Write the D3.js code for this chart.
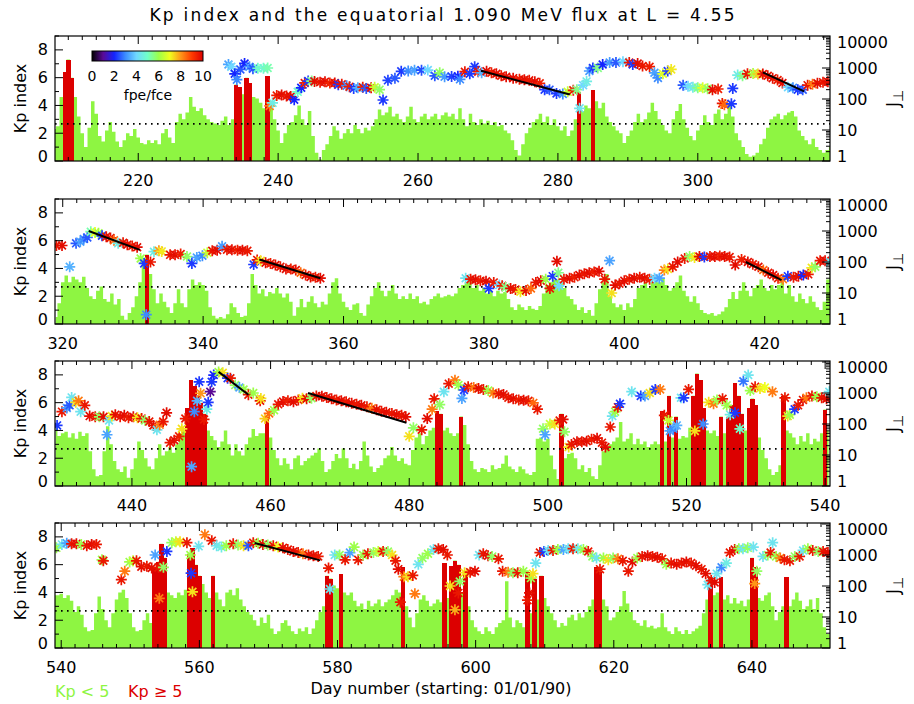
<!DOCTYPE html>
<html><head><meta charset="utf-8">
<script src="https://cdn.jsdelivr.net/npm/d3@7"></script>
<style>body{margin:0;background:#fff} text{font-family:"DejaVu Sans",sans-serif}</style>
</head><body><svg id="c" width="914" height="704"></svg>
<script>
const title = "Kp index and the equatorial 1.090 MeV flux at L = 4.55";
const panelDays = [[208.1,318.9],[318.9,429.3],[428.9,540.7],[539.1,651.3]];
const kpStart = [208,319,429,539];
const kpStep = 0.5;
const kp1 = [2.3,2.5,4.6,6.4,7.3,6.0,4.6,3.2,2.0,1.0, 2.4,4.3,3.4,1.8,1.4,2.2,2.8,2.1,1.4,1.0,
1.5,2.0,1.8,2.3,1.7,1.3,1.2,1.5,1.3,1.5, 1.2,2.0,2.3,1.7,1.3,2.8,3.4,3.0,3.5,4.6,
3.9,3.6,3.8,3.3,3.0,2.8,2.7,2.6,2.9,3.2, 2.6,3.0,5.5,5.3,4.8,6.0,5.6,4.6,4.5,4.2,
3.8,6.1,3.8,3.0,2.2,1.3,2.0,2.6,2.8,3.3, 4.0,3.0,2.6,3.6,1.8,0.6,0.1,0.8,1.2,1.8,
2.5,2.2,1.6,2.0,2.3,2.0,2.6,2.3,2.0,2.4, 2.2,2.5,3.0,3.7,3.3,3.5,3.9,3.2,3.4,3.0,
2.8,3.2,3.9,3.0,2.8,3.2,3.4,3.0,3.2,3.4, 3.0,3.3,3.5,3.2,3.4,3.0,3.8,3.0,2.5,3.4,
2.8,2.6,3.0,2.7,2.9,2.6,2.8,2.5,2.6,2.2, 2.0,1.5,0.8,0.4,1.2,2.0,2.4,2.8,3.0,3.4,
2.8,3.2,2.6,3.0,2.5,2.2,2.5,1.8,2.2,3.0, 5.0,3.6,4.0,3.8,5.1,4.3,3.8,4.2,3.2,2.8,
2.5,2.2,2.0,1.3,1.8,2.2,2.8,3.4,2.8,3.0, 3.5,4.2,3.6,3.0,2.6,2.2,2.0,3.0,3.6,4.1,
3.0,2.4,1.8,1.5,2.2,2.6,3.3,2.8,2.6,3.4, 3.7,3.0,3.4,4.0,3.2,2.0,1.5,1.0,0.5,0.3,
0.4,0.6,1.2,1.6,2.4,3.0,3.2,3.4,3.0,3.3, 3.5,3.6,3.2,2.2,1.8,1.5,1.2,1.6,1.0,0.8,
0.6,0.8,1.0];
const kp2 = [0.5,1.5,3.0,3.5,3.0,3.4,3.2,3.0,3.4,2.6, 2.0,1.8,2.4,2.7,1.8,1.6,2.2,1.4,1.8,0.6,
0.3,0.8,1.2,2.0,3.0,4.5,5.0,3.6,2.5,1.5, 2.2,1.6,1.2,0.8,1.5,2.5,1.5,1.2,2.5,3.2,
2.8,3.0,2.8,2.4,1.2,0.6,0.4,0.5,0.4,0.7, 1.5,1.2,0.8,0.5,0.6,1.5,3.6,2.8,2.2,2.5,
2.0,2.3,2.2,2.6,2.2,1.9,2.2,1.6,0.6,1.2, 1.8,1.2,1.6,2.0,1.5,1.2,1.6,1.4,2.2,3.0,
3.3,2.2,1.6,1.2,1.0,1.4,1.5,0.8,0.6,1.4, 2.0,2.6,3.0,2.4,2.0,2.4,2.8,2.2,1.8,2.0,
1.8,2.2,1.8,2.0,1.5,1.6,1.4,1.8,2.0,2.2, 1.9,2.0,2.1,2.0,2.2,2.6,2.8,3.0,3.3,2.6,
2.8,2.4,2.6,2.2,2.4,2.0,2.4,2.2,2.3,1.8, 1.2,1.0,1.4,1.2,1.0,1.3,1.1,1.0,1.3,2.2,
2.8,3.0,3.2,3.2,3.0,2.6,2.0,1.8,1.4,1.0, 1.2,0.8,1.0,0.6,1.5,2.5,3.0,3.6,2.0,1.5,
1.2,1.4,1.0,1.5,1.2,1.8,2.6,2.8,3.0,2.6, 3.0,3.2,3.0,3.3,2.8,2.4,2.6,3.0,3.5,2.4,
2.0,1.6,2.0,1.5,1.0,0.8,0.7,0.8,0.6,0.7, 0.9,1.2,1.8,2.3,1.8,2.4,3.0,2.4,2.0,2.6,
2.8,3.2,2.6,2.4,2.8,2.5,2.8,3.0,2.2,2.8, 2.0,1.6,2.2,1.8,1.5,2.0,1.6,1.2,1.0,1.6,
3.2,4.0];
const kp3 = [4.2,3.6,3.8,3.9,3.5,3.8,3.4,3.9,3.6,3.8, 2.5,1.2,0.7,0.8,2.5,4.3,3.0,1.8,1.2,1.0,
1.4,0.6,1.2,2.0,3.2,2.6,2.0,1.4,1.2,2.0, 3.0,2.2,2.5,2.8,2.4,3.0,3.8,4.0,5.6,7.6,
7.2,6.5,6.0,5.2,4.0,3.6,3.3,2.8,3.2,4.0, 3.0,2.2,3.0,2.5,2.2,3.0,3.5,4.1,3.6,3.8,
3.8,5.0,3.5,2.6,2.0,1.5,2.0,1.6,1.2,2.0, 2.2,1.5,1.8,2.0,2.2,2.4,2.7,1.8,1.0,1.2,
1.8,2.3,2.0,2.7,2.0,1.3,1.6,1.2,1.8,3.2, 2.2,1.4,1.0,1.3,1.5,2.0,2.2,2.8,2.2,1.8,
2.0,1.6,1.5,2.6,3.5,3.8,3.0,3.6,4.0,4.2, 5.4,5.2,4.0,4.2,3.8,3.6,3.8,5.0,4.4,3.0,
1.8,1.2,1.0,1.3,1.2,1.0,1.5,1.2,1.3,1.6, 2.2,1.4,1.2,1.0,1.4,1.2,0.9,0.8,1.0,3.4,
3.5,3.2,3.4,2.2,1.2,0.5,5.2,2.0,2.3,2.4, 2.0,1.2,1.5,1.0,1.3,0.7,0.5,1.5,2.5,2.8,
3.0,3.2,3.5,4.6,3.2,3.4,3.8,3.0,3.4,3.0, 3.2,2.8,3.0,3.2,3.0,5.4,3.2,6.5,3.5,5.0,
3.4,3.6,3.5,4.2,6.5,8.1,7.6,5.6,4.0,3.8, 4.0,3.6,5.0,3.8,5.0,5.8,7.4,6.5,5.2,4.0,
5.6,6.3,5.8,3.5,2.6,2.0,1.2,0.8,1.0,1.5, 6.5,4.0,3.8,3.5,3.0,3.6,3.2,3.8,3.0,3.4,
3.2,3.8,5.5,4.0];
const kp4 = [3.8,3.8,3.9,3.6,3.8,3.4,2.6,3.0,2.4,1.5, 1.2,1.3,2.5,3.7,2.8,2.0,1.5,2.5,3.5,4.0,
4.2,3.6,2.5,1.5,1.2,1.3,2.0,2.5,1.8,5.8, 6.2,7.5,6.5,4.0,3.8,3.6,4.0,3.8,4.2,6.8,
7.2,6.0,5.2,4.6,4.0,3.6,5.2,4.0,3.5,3.0, 4.0,4.2,3.8,4.3,3.5,3.0,2.6,2.4,2.0,1.6,
2.2,1.8,2.4,1.4,1.0,1.2,1.8,2.0,1.6,1.2, 1.0,1.4,1.2,1.5,1.0,1.4,2.0,2.6,3.0,5.2,
5.0,4.5,4.3,5.3,4.0,3.8,4.0,3.4,3.0,3.2, 2.8,3.4,3.0,3.2,3.5,3.0,3.3,3.5,3.8,4.2,
4.0,5.8,3.0,2.2,1.5,2.5,3.5,3.8,3.4,3.0, 3.2,3.5,3.3,6.1,3.6,5.9,6.3,6.0,4.0,5.4,
3.0,2.0,1.5,1.2,1.0,1.5,1.2,1.0,1.5,1.8, 2.0,4.8,2.2,1.5,2.0,1.8,1.5,5.5,2.5,5.0,
3.5,5.2,3.6,3.0,2.5,2.0,1.5,1.8,1.6,2.2, 2.4,2.0,2.5,2.2,2.6,3.0,3.5,5.8,5.5,3.5,
3.0,2.0,2.2,2.6,3.0,4.1,3.2,2.6,2.0,1.8, 1.6,2.0,1.5,1.6,1.4,1.5,2.5,1.5,1.2,1.0,
1.5,1.2,1.0,1.3,1.0,1.2,1.4,1.6,2.5,3.5, 5.1,3.8,4.0,5.1,3.5,3.8,3.2,3.6,3.2,3.4,
3.0,3.5,6.5,5.8,3.6,3.4,3.8,4.0,3.0,2.0, 2.6,3.0,5.1,3.0,3.5,4.0,3.4,2.8,3.0,3.5,
2.8,3.6,2.5,1.5,1.0,0.8];

// flux points: [day, J, fpe/fce]
const flux1 = [[232.9,1300,3.3],[233.3,1100,4.0],[233.8,650,2.0],[234.1,420,3.0],[234.6,900,2.5],[235.2,1400,2.0],[235.9,1100,3.2],[236.4,950,2.5],[237.1,980,5.0],[237.9,990,4.8],[238.5,1000,5.2],[238.8,60,8.3],[239.2,75,4.5],[239.8,130,9.5],[240.5,135,9.8],[241.2,125,9.6],[241.8,120,9.8],[242.3,95,2.0],[242.8,170,5.0],[243.3,230,2.0],[243.8,330,9.5],[244.3,380,2.2],[244.8,380,5.5],[245.2,370,9.8],[246.0,350,9.6],[246.7,360,9.8],[247.4,330,9.4],[248.1,330,9.8],[248.6,290,2.2],[249.1,300,9.6],[249.8,270,3.0],[250.2,250,9.5],[250.8,220,2.2],[251.4,230,3.5],[252.1,240,9.5],[252.6,220,2.5],[253.3,230,9.8],[253.8,240,6.5],[254.5,200,5.8],[255.0,93,2.2],[255.7,400,2.3],[256.7,470,2.5],[257.6,780,2.2],[258.6,800,3.0],[259.5,850,3.3],[260.5,850,2.4],[261.4,860,4.0],[262.4,560,2.5],[263.1,700,5.8],[263.8,520,3.2],[264.8,530,2.3],[265.7,540,2.0],[266.0,430,3.0],[266.7,760,9.6],[267.4,650,2.2],[268.1,1100,2.2],[268.6,760,9.6],[269.1,700,3.5],[269.8,790,9.8],[270.5,700,9.5],[271.2,650,9.8],[271.9,560,9.6],[272.6,520,9.8],[273.6,470,9.8],[274.5,430,9.5],[275.2,420,9.8],[275.9,400,9.6],[276.7,360,9.8],[277.4,320,9.5],[278.1,200,2.2],[278.8,200,2.5],[279.8,150,2.2],[280.7,145,3.0],[281.4,170,6.5],[282.2,190,9.6],[282.7,200,5.5],[283.1,50,4.3],[283.6,280,4.0],[284.1,370,4.5],[284.5,800,3.2],[285.0,1000,2.2],[285.7,1000,5.5],[286.4,1300,2.0],[287.4,1500,3.2],[288.3,1500,2.5],[289.3,1600,4.0],[290.2,1500,9.6],[290.7,1300,2.2],[291.4,1400,9.8],[292.1,1150,9.6],[293.1,1100,9.5],[293.8,700,3.3],[294.3,480,3.0],[295.0,650,6.8],[295.7,800,2.2],[296.2,900,7.2],[297.9,280,2.5],[298.6,260,4.0],[299.3,240,4.5],[300.0,230,5.5],[300.7,230,6.8],[301.4,215,5.8],[302.1,200,9.8],[302.9,210,9.5],[303.5,72,9.6],[303.8,65,8.5],[304.8,70,2.2],[305.0,220,2.2],[305.7,590,4.5],[306.4,560,5.5],[307.1,650,9.6],[307.9,660,6.2],[308.6,640,7.5],[309.3,640,9.8],[310.0,560,9.6],[310.7,470,9.8],[311.4,410,9.5],[312.1,330,9.8],[312.9,240,4.0],[313.6,230,3.0],[314.3,200,2.2],[315.0,200,2.5],[315.7,280,9.6],[316.4,300,8.3],[317.1,320,9.8],[317.9,350,9.6],[318.6,360,9.8]];
const flux2 = [[319.1,340,9.6],[319.9,340,9.8],[321.0,70,3.5],[321.9,400,2.5],[322.5,450,3.3],[323.0,550,3.0],[323.5,620,2.5],[324.0,950,5.2],[324.6,900,7.0],[325.1,850,6.0],[325.6,700,2.2],[326.2,650,9.6],[326.8,600,9.8],[327.3,500,8.5],[327.9,400,4.5],[328.6,420,9.6],[329.2,360,9.8],[329.9,330,9.5],[330.6,300,9.8],[331.1,130,6.0],[331.6,90,2.2],[331.9,2,3.0],[332.5,100,9.6],[333.0,215,4.5],[333.7,230,8.0],[334.1,220,7.2],[335.3,170,9.6],[336.0,170,9.8],[336.8,180,9.5],[337.7,150,5.8],[338.4,90,2.2],[339.1,140,3.3],[339.9,160,3.0],[340.6,200,6.5],[341.3,230,9.6],[342.0,240,9.8],[342.7,320,3.2],[343.4,250,9.6],[344.1,250,9.8],[344.9,240,9.5],[345.6,240,9.8],[346.3,230,9.6],[347.2,83,2.2],[347.7,117,9.6],[348.2,110,7.2],[348.9,95,9.8],[349.6,90,9.5],[350.3,80,9.8],[351.0,70,9.6],[351.8,60,9.8],[352.5,60,9.5],[353.2,55,9.8],[353.9,45,8.5],[354.6,38,9.6],[355.3,33,9.8],[356.0,32,9.5],[356.7,30,9.8],
[377.4,30,4.3],[378.1,28,9.6],[378.8,27,9.8],[379.5,25,9.5],[380.3,24,9.8],[380.7,14,2.2],[381.4,22,9.6],[382.2,18,4.0],[382.6,17,9.5],[383.1,15,5.5],[383.8,14,9.8],[384.5,13,9.6],[385.2,11,7.2],[386.0,12,9.8],[386.7,14,8.5],[387.4,22,9.6],[388.1,25,9.8],[388.8,28,6.0],[389.4,14,9.6],[389.8,35,2.2],[390.4,105,9.8],[390.6,45,5.5],[390.7,17,4.0],[391.4,28,9.6],[392.2,30,9.8],[392.9,32,9.5],[393.6,38,9.8],[394.3,42,9.6],[395.0,45,9.8],[395.7,48,9.5],[396.4,50,9.8],[397.2,28,9.6],[397.9,110,3.3],[398.2,10,7.3],[398.7,18,9.8],[399.3,20,9.6],[400.0,25,9.8],[400.7,28,9.5],[401.4,30,9.8],[402.2,32,9.6],[402.9,30,9.8],[403.6,28,9.5],[404.3,30,4.0],[405.0,30,3.3],[405.7,55,8.3],[406.2,60,7.3],[406.9,70,9.6],[407.6,100,9.8],[408.6,130,9.6],[409.3,150,5.8],[410.0,140,7.2],[410.7,150,9.8],[411.4,145,2.2],[412.2,150,9.6],[412.9,150,9.8],[413.6,155,9.5],[414.3,150,9.8],[415.0,145,9.6],[415.8,80,9.8],[416.7,120,9.5],[417.6,100,9.8],[418.3,85,9.6],[419.1,70,9.8],[419.8,55,8.5],[420.5,45,9.6],[421.2,38,9.8],[421.9,30,9.5],[422.6,28,8.3],[423.3,35,2.2],[424.1,32,9.6],[424.8,35,9.8],[425.5,38,2.0],[426.2,40,9.6],[426.7,65,7.2],[427.2,70,5.8],[427.9,110,9.6],[428.6,110,9.8],[429.3,100,4.3]];
const flux3 = [[429.2,90,2.2],[429.9,250,9.6],[430.6,330,3.2],[431.0,400,2.5],[431.3,720,4.3],[431.9,500,7.3],[432.3,560,8.3],[432.6,250,4.3],[433.2,400,9.6],[433.9,180,9.8],[434.7,170,9.6],[435.3,170,5.8],[435.9,170,9.8],[436.4,45,3.3],[436.7,130,4.3],[437.1,180,7.2],[437.6,200,9.8],[438.3,170,9.6],[438.9,190,9.8],[439.5,160,9.5],[440.2,170,9.8],[440.8,160,7.2],[441.4,150,9.6],[441.9,130,5.8],[442.5,120,9.6],[443.1,90,9.8],[443.6,65,4.3],[444.0,95,8.3],[444.5,120,9.6],[445.0,230,9.8],[445.5,25,9.6],[446.1,30,9.8],[446.8,40,9.5],[447.2,70,7.3],[447.7,150,9.6],[448.6,4.2,3.3],[449.0,250,3.0],[449.4,560,3.5],[449.7,2300,2.2],[449.9,980,8.0],[450.4,140,9.6],[450.8,300,4.5],[451.0,500,2.2],[451.3,1100,1.0],[451.5,2300,2.2],[451.8,3800,2.0],[452.5,4800,6.0],[453.1,4500,7.3],[453.8,3000,2.2],[454.2,3000,9.6],[454.9,1800,5.8],[455.5,1500,3.3],[456.1,1300,6.0],[456.8,880,9.6],[457.5,1000,6.0],[458.5,560,9.6],[458.6,670,7.3],[459.2,150,7.5],[459.8,220,8.5],[460.5,280,6.0],[461.1,430,9.6],[461.8,530,9.8],[462.5,560,9.5],[463.3,520,9.8],[464.0,600,9.6],[464.6,680,7.3],[465.2,650,9.8],[465.9,680,5.8],[466.6,800,9.6],[467.4,780,9.8],[468.1,720,9.6],[468.8,650,9.8],[469.5,600,9.5],[470.2,560,9.8],[470.9,520,9.6],[471.7,470,9.8],[472.4,430,9.6],[473.1,400,9.8],[473.9,360,9.6],[474.6,320,8.3],[475.3,290,9.8],[476.0,260,9.6],[476.7,240,9.8],[477.5,220,9.6],[478.2,200,9.8],[478.9,190,9.6],[479.5,170,9.8],[480.0,40,7.3],[480.6,75,5.8],[481.8,65,9.6],[482.6,150,9.8],[483.3,300,8.3],[483.6,650,9.6],[484.4,420,5.8],[485.0,1100,4.3],[485.7,2000,9.6],[486.6,2600,8.3],[487.1,1800,6.0],[487.6,670,3.3],[487.9,1250,2.2],[488.5,1600,9.6],[489.3,1500,8.3],[490.0,1400,9.8],[490.7,1300,9.6],[491.4,1200,6.0],[492.1,1000,8.3],[492.9,950,9.6],[493.6,900,9.8],[494.3,700,9.6],[495.0,650,9.8],[495.8,600,9.5],[496.5,580,9.8],[497.2,560,9.6],[497.9,480,8.5],[498.5,300,9.6],[499.3,70,5.8],[499.6,45,3.3],[500.3,100,6.5],[501.0,100,7.3],[501.7,130,9.6],[502.2,140,9.8],[502.4,56,5.8],[503.0,18,7.3],[503.4,22,9.6],[504.2,27,9.8],[504.9,27,9.6],[505.6,28,9.8],[506.3,32,9.5],[507.1,35,9.8],[507.8,25,9.6],[508.3,18,9.8],[509.0,80,9.6],[509.3,180,4.3],[509.7,250,6.0],[510.1,350,9.6],[510.4,450,2.2],[512.1,1100,4.3],[513.4,800,2.2],[514.0,800,3.3],[514.7,1000,7.3],[515.5,1300,2.2],[516.2,1300,8.3],[516.8,190,9.6],[517.4,130,6.5],[517.6,60,3.3],[518.1,70,3.0],[518.6,90,3.5],[519.2,700,4.3],[519.6,700,2.2],[520.3,1300,9.6],[521.2,60,7.3],[522.4,100,3.0],[523.2,500,7.3],[523.9,450,8.3],[524.4,600,6.0],[525.2,650,9.6],[525.8,400,6.0],[526.3,200,4.5],[527.0,230,2.2],[527.7,70,5.0],[528.2,2400,2.8],[528.9,3800,4.3],[529.2,1200,6.0],[529.9,1600,9.6],[530.6,1400,7.3],[531.3,1500,7.0],[532.4,1100,8.3],[534.2,700,9.6],[534.6,180,7.3],[534.9,200,6.0],[535.6,300,2.2],[536.1,400,9.6],[536.8,600,9.8],[537.3,700,8.3],[538.1,800,9.6],[538.8,750,6.0],[539.5,700,9.6],[540.2,650,9.8],[540.6,1100,4.3]];
const flux4 = [[539.3,1700,6.0],[540.1,2200,4.3],[540.8,2400,3.3],[541.5,2300,9.6],[542.2,2300,9.8],[542.9,2200,6.0],[543.7,2000,9.6],[544.4,2200,9.8],[545.1,2200,9.6],[545.9,700,6.0],[546.1,650,9.6],[548.7,160,9.6],[549.2,300,8.3],[549.9,600,6.0],[550.4,650,6.5],[550.9,650,9.6],[551.6,420,9.8],[552.4,430,9.6],[553.1,380,9.8],[553.6,1000,3.3],[554.1,400,9.6],[554.2,40,8.3],[554.8,400,5.8],[555.3,1300,2.2],[556.0,2500,5.8],[556.6,2700,6.5],[557.2,2700,7.3],[558.2,2500,9.6],[558.7,1000,6.0],[558.8,260,2.2],[559.0,65,7.3],[559.9,1900,4.3],[560.8,4500,8.3],[561.8,2900,9.6],[562.5,2000,4.3],[563.2,1800,4.5],[563.9,2000,6.0],[564.9,2300,9.6],[565.6,2100,5.8],[566.4,2000,7.3],[567.1,2000,2.5],[567.8,2500,9.6],[568.5,2400,6.0],[569.2,2200,9.8],[569.9,2100,5.8],[570.7,2000,9.6],[571.4,1800,7.0],[572.1,1700,9.8],[572.8,1500,9.6],[573.6,1300,9.8],[574.3,1200,9.6],[575.0,1100,8.3],[575.8,1000,9.6],[576.5,950,9.8],[577.2,900,9.6],[578.7,380,9.6],[578.9,80,4.3],[579.6,1000,4.3],[580.3,1000,5.8],[581.1,700,9.6],[581.8,1200,3.3],[582.4,1800,6.0],[583.0,700,9.6],[583.7,1000,6.0],[584.4,1100,9.6],[585.2,1200,5.8],[585.9,1300,6.5],[586.6,1300,9.6],[587.3,1300,5.8],[587.9,1000,7.3],[588.4,650,9.6],[588.8,350,9.8],[589.1,30,9.6],[589.6,200,8.3],[590.2,200,7.3],[590.9,220,9.6],[591.2,56,8.3],[591.7,500,4.3],[592.3,800,5.8],[593.1,1100,6.0],[593.9,1500,4.3],[594.6,1600,9.6],[595.3,1500,9.8],[595.9,1000,9.6],[596.3,100,7.3],[597.0,17,7.8],[597.5,60,9.6],[597.7,140,5.8],[598.4,270,7.3],[599.2,280,9.6],[599.9,300,9.8],[600.5,1000,4.3],[601.1,1100,9.6],[601.8,950,9.8],[602.4,900,5.8],[603.3,750,9.6],[603.9,300,9.6],[604.7,280,8.3],[605.4,270,5.8],[606.1,270,9.6],[606.9,300,6.0],[607.5,35,9.6],[607.8,60,9.8],[608.0,180,6.0],[608.3,250,7.3],[608.7,550,4.3],[609.3,1200,9.6],[609.9,1300,2.2],[610.5,1400,4.3],[611.2,1400,9.6],[611.9,1500,6.0],[612.7,1500,3.3],[613.4,1600,4.3],[614.1,1600,9.6],[614.8,1600,4.5],[615.6,1500,6.0],[616.3,1300,9.6],[616.9,900,5.8],[617.5,800,4.3],[618.0,350,9.6],[618.5,800,6.0],[619.2,700,7.3],[619.9,800,5.8],[620.6,750,8.3],[621.3,650,9.6],[622.1,300,9.6],[622.7,600,9.8],[623.4,800,6.0],[624.1,900,9.6],[624.9,950,9.8],[625.6,900,9.6],[626.3,850,9.8],[627.0,750,9.6],[627.6,500,6.0],[628.3,550,9.6],[629.1,500,9.8],[629.8,550,9.6],[630.5,600,9.8],[631.2,550,9.6],[631.9,450,9.8],[632.7,350,9.6],[633.3,250,9.8],[633.6,110,4.3],[634.1,150,9.6],[634.6,130,9.8],[634.9,250,4.3],[635.6,400,3.0],[636.3,550,4.5],[636.8,1200,9.6],[637.5,1500,9.8],[638.1,1600,6.0],[638.7,1600,4.3],[639.4,1700,5.8],[640.2,1800,4.3],[640.4,120,8.0],[640.7,300,5.8],[641.6,900,4.3],[642.3,1000,5.8],[642.7,1200,9.6],[643.0,2500,4.3],[643.5,900,6.0],[644.1,800,8.3],[644.7,700,9.6],[645.5,650,9.6],[646.2,900,5.8],[646.9,900,9.6],[647.4,1400,4.3],[648.1,1600,6.0],[648.8,1400,9.6],[649.6,1300,5.8],[650.3,1300,9.6],[651.0,1200,9.8]];
// regression lines: [panel, day0, J0, day1, J1]
const fitLines = [[0,269.0,810,281.7,140],[0,309.3,720,315.2,175],[1,323.7,1000,331.0,245],[1,348.0,120,356.7,30],[1,417.3,100,422.4,26],[2,452.5,4800,456.8,880],[2,465.4,1000,479.6,110],[3,568.0,2450,577.5,670]];
const kpTicks = [0,2,4,6,8];
const jTicks = [1,10,100,1000,10000];
const fpeTicks = [0,2,4,6,8,10];
const fpeStops = [0,1,2,3,4,5,6,7,8,9,10];
const fpeColors = ["#000000","#5a0a96","#1424ff","#3c8cff","#6fd8ff","#70ffc8","#9cff4a","#f0ff1e","#ff9618","#ff3a00","#dc0000"];
const kpThreshold = 5, kpRef = 2.67;
const GREEN = "#8ef542", RED = "#dc0000";

const kpData = [kp1,kp2,kp3,kp4], fluxData = [flux1,flux2,flux3,flux4];
const svg = d3.select("#c");
const L = 55, R = 830, H = 125;
const bottoms = [161, 324, 486, 648];
const color = d3.scaleLinear().domain(fpeStops).range(fpeColors).interpolate(d3.interpolateRgb).clamp(true);
const star = "M-5.5,0H5.5M0,-5.5V5.5M-3.9,-3.9L3.9,3.9M-3.9,3.9L3.9,-3.9";

svg.append("text").attr("x",442).attr("y",15).attr("dy","0.35em").attr("text-anchor","middle")
  .attr("font-size",17).attr("textLength",585).attr("lengthAdjust","spacing").text(title);

const defs = svg.append("defs");
panelDays.forEach((dom,p)=>{
  const bot = bottoms[p], top = bot - H;
  const x = d3.scaleLinear().domain(dom).range([L,R]);
  const yK = d3.scaleLinear().domain([0,9]).range([bot,top]);
  const yJ = d3.scaleLog().domain([1, Math.pow(10,H/31)]).range([bot,top]);
  defs.append("clipPath").attr("id","cp"+p).append("rect").attr("x",L).attr("y",top).attr("width",R-L).attr("height",H);
  const g = svg.append("g").attr("clip-path","url(#cp"+p+")");
  const bars = kpData[p].map((v,i)=>({d:kpStart[p]+i*kpStep, v}));
  // green Kp histogram as a single stepped area (no seams)
  const area = d3.area().curve(d3.curveStep).x(d=>x(d.d)).y0(yK(0)).y1(d=>yK(d.v));
  g.append("path").datum(bars).attr("d",area).attr("fill",GREEN);
  // red bars for Kp >= 5
  g.selectAll("rect.kp").data(bars.filter(d=>d.v>=kpThreshold)).join("rect").attr("class","kp")
    .attr("shape-rendering","crispEdges")
    .attr("x",d=>Math.floor(x(d.d-kpStep/2)))
    .attr("width",d=>Math.ceil(x(d.d+kpStep/2))-Math.floor(x(d.d-kpStep/2)))
    .attr("y",d=>yK(d.v)).attr("height",d=>yK(0)-yK(d.v))
    .attr("fill",RED);
  g.append("line").attr("x1",L).attr("x2",R).attr("y1",yK(kpRef)).attr("y2",yK(kpRef))
    .attr("stroke","#000").attr("stroke-width",1.6).attr("stroke-dasharray","1.6,4.4");
  g.selectAll("path.st").data(fluxData[p]).join("path").attr("class","st")
    .attr("d",star).attr("transform",d=>`translate(${x(d[0])},${yJ(d[1])})`)
    .attr("stroke",d=>color(d[2])).attr("stroke-width",1.7).attr("fill","none");
  fitLines.filter(f=>f[0]===p).forEach(f=>{
    g.append("line").attr("x1",x(f[1])).attr("y1",yJ(f[2])).attr("x2",x(f[3])).attr("y2",yJ(f[4]))
      .attr("stroke","#000").attr("stroke-width",2);
  });
  svg.append("rect").attr("x",L).attr("y",top).attr("width",R-L).attr("height",H)
    .attr("fill","none").attr("stroke","#000").attr("stroke-width",1.2);
  const ax = svg.append("g").attr("stroke","#000").attr("stroke-width",1);
  for(let d=Math.ceil(dom[0]/2)*2; d<=dom[1]; d+=2){
    const len = d%20===0?8:4, xx = x(d);
    ax.append("line").attr("x1",xx).attr("x2",xx).attr("y1",bot).attr("y2",bot-len);
    ax.append("line").attr("x1",xx).attr("x2",xx).attr("y1",top).attr("y2",top+len);
  }
  svg.selectAll(null).data(d3.range(Math.ceil(dom[0]/20)*20, dom[1], 20)).join("text")
    .attr("x",d=>x(d)).attr("y",bot+19).attr("dy","0.35em").attr("text-anchor","middle").attr("font-size",16).text(d=>d);
  for(let k=0;k<=9;k++){
    const len = k%2===0?8:4;
    ax.append("line").attr("x1",L).attr("x2",L+len).attr("y1",yK(k)).attr("y2",yK(k));
  }
  svg.selectAll(null).data(kpTicks).join("text").attr("x",48).attr("y",d=>yK(d)-(d===0?5:0)).attr("dy","0.35em")
    .attr("text-anchor","end").attr("font-size",16).text(d=>d);
  for(let e=0;e<=4;e++){
    for(let m=1;m<=9;m++){
      const v = m*Math.pow(10,e); if(v>yJ.domain()[1]) continue;
      const len = m===1?8:4;
      ax.append("line").attr("x1",R).attr("x2",R-len).attr("y1",yJ(v)).attr("y2",yJ(v));
    }
  }
  svg.selectAll(null).data(jTicks).join("text").attr("x",837)
    .attr("y",d=>yJ(d)+(d===1?-5:(d===10000?5:0))).attr("dy","0.35em")
    .attr("text-anchor","start").attr("font-size",16).text(d=>d);
  svg.append("text").attr("transform",`translate(20,${top+H/2}) rotate(-90)`).attr("dy","0.35em")
    .attr("text-anchor","middle").attr("font-size",16).text("Kp index");
  const jt = svg.append("text").attr("transform",`translate(893,${top+H/2}) rotate(-90)`).attr("dy","0.35em")
    .attr("text-anchor","middle").attr("font-size",17);
  jt.append("tspan").text("J");
  jt.append("tspan").attr("dy","0.3em").attr("font-size",14).text("⊥");
});

// colorbar
const cbX0 = 92, cbX1 = 203, cbY = 51, cbH = 10;
const cb = d3.scaleLinear().domain([0,10]).range([cbX0,cbX1]);
const grad = defs.append("linearGradient").attr("id","cbg");
fpeStops.forEach(s=>grad.append("stop").attr("offset",(s*10)+"%").attr("stop-color",color(s)));
svg.append("rect").attr("x",cbX0).attr("y",cbY).attr("width",cbX1-cbX0).attr("height",cbH)
  .attr("fill","url(#cbg)").attr("stroke","#000").attr("stroke-width",1);
svg.selectAll(null).data(fpeTicks).join("text").attr("x",d=>cb(d)).attr("y",76).attr("dy","0.35em")
  .attr("text-anchor","middle").attr("font-size",14).text(d=>d);
svg.append("text").attr("x",148).attr("y",95).attr("dy","0.35em").attr("text-anchor","middle")
  .attr("font-size",14).text("fpe/fce");

// bottom legend
svg.append("text").attr("x",55).attr("y",691).attr("dy","0.35em").attr("font-size",16).attr("fill",GREEN).text("Kp < 5");
svg.append("text").attr("x",128).attr("y",691).attr("dy","0.35em").attr("font-size",16).attr("fill",RED).text("Kp ≥ 5");
svg.append("text").attr("x",441).attr("y",688).attr("dy","0.35em").attr("text-anchor","middle").attr("font-size",16)
  .text("Day number (starting: 01/01/90)");
</script></body></html>
